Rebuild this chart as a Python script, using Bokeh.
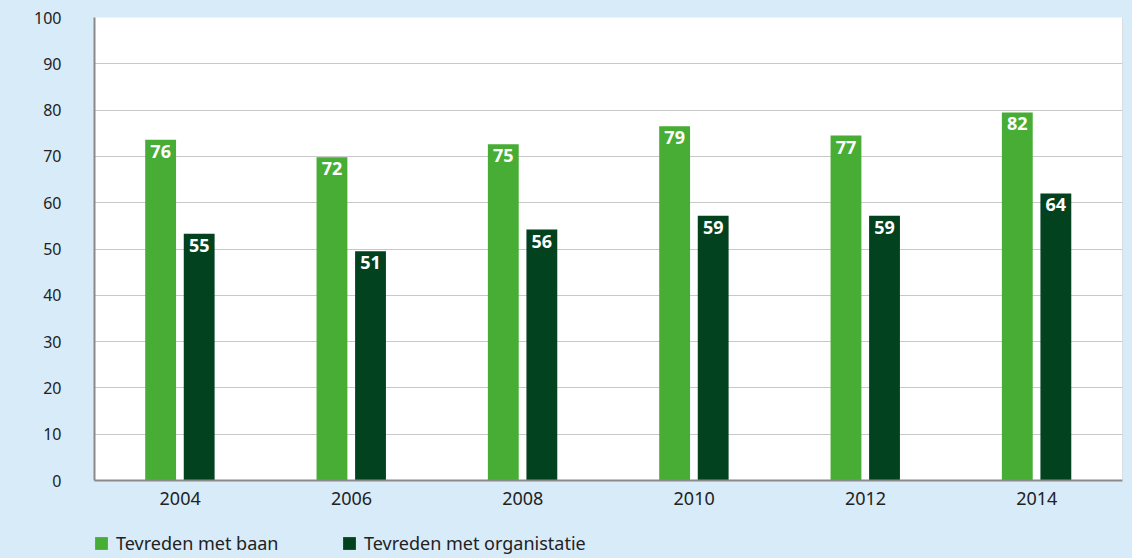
from bokeh.plotting import figure
from bokeh.layouts import column
from bokeh.models import FactorRange, Range1d, FixedTicker, Legend, LegendItem, ColumnDataSource, Span
from bokeh.transform import dodge
from bokeh.core.properties import value
from bokeh.embed import file_html
from bokeh.resources import INLINE

years = ["2004", "2006", "2008", "2010", "2012", "2014"]
baan = [73.6, 69.8, 72.6, 76.5, 74.5, 79.5]
organisatie = [53.3, 49.5, 54.2, 57.2, 57.2, 62.0]
baan_labels = ["76", "72", "75", "79", "77", "82"]
organisatie_labels = ["55", "51", "56", "59", "59", "64"]
y_ticks = [0, 10, 20, 30, 40, 50, 60, 70, 80, 90, 100]
series_names = ["Tevreden met baan", "Tevreden met organistatie"]

LIGHT = "#47ad35"
DARK = "#03421e"
BG = "#d7ebf9"
FONT = "Noto Sans"

src = ColumnDataSource(dict(years=years, baan=baan, org=organisatie,
                            bl=baan_labels, ol=organisatie_labels))

p = figure(width=1132, height=510, output_backend="svg", toolbar_location=None,
           x_range=FactorRange(*years, range_padding=0), y_range=Range1d(0, 100),
           min_border_left=94, min_border_right=10, min_border_top=17, min_border_bottom=30)
p.background_fill_color = "white"
p.border_fill_color = BG
p.outline_line_color = None

p.vbar(x=dodge("years", -0.114, range=p.x_range), top="baan", width=0.18, source=src,
       fill_color=LIGHT, line_color=None)
p.vbar(x=dodge("years", 0.111, range=p.x_range), top="org", width=0.18, source=src,
       fill_color=DARK, line_color=None)

p.text(x=dodge("years", -0.114, range=p.x_range), y="baan", text="bl", source=src,
       text_color="white", text_font=value(FONT), text_font_style="bold",
       text_font_size="18px", text_align="center", text_baseline="top", y_offset=5)
p.text(x=dodge("years", 0.111, range=p.x_range), y="org", text="ol", source=src,
       text_color="white", text_font=value(FONT), text_font_style="bold",
       text_font_size="18px", text_align="center", text_baseline="top", y_offset=5)

p.xgrid.grid_line_color = None
p.ygrid.ticker = FixedTicker(ticks=y_ticks[1:-1])
p.ygrid.grid_line_color = "#c8c8c8"
p.ygrid.grid_line_width = 1

p.yaxis.ticker = FixedTicker(ticks=y_ticks)
for ax in (p.xaxis[0], p.yaxis[0]):
    ax.axis_line_color = "#8a8a8a"
    ax.axis_line_width = 2
    ax.major_tick_line_color = None
    ax.minor_tick_line_color = None
    ax.major_label_text_font = FONT
    ax.major_label_text_color = "#222222"
p.yaxis.major_label_text_font_size = "16px"
p.yaxis.major_label_standoff = 27
p.xaxis.major_label_text_font_size = "18px"
p.xaxis.major_label_standoff = 5

p.add_layout(Span(location=6, dimension="height", line_color="#c8c8c8", line_width=1))

# legend strip below the chart (transparent; the column supplies the background)
lf = figure(width=1132, height=48, output_backend="svg", toolbar_location=None,
            x_range=Range1d(0, 1), y_range=Range1d(0, 1),
            min_border_left=0, min_border_right=0, min_border_top=0, min_border_bottom=0)
lf.axis.visible = False
lf.grid.visible = False
lf.outline_line_color = None
lf.background_fill_color = None
lf.border_fill_color = None
# swatch renderers sit outside the visible range; only their legend glyphs show
d1 = lf.quad(left=[2], right=[3], top=[3], bottom=[2], fill_color=LIGHT, line_color=None)
d2 = lf.quad(left=[2], right=[3], top=[3], bottom=[2], fill_color=DARK, line_color=None)

for item, loc in ((LegendItem(label=series_names[0], renderers=[d1]), (-1, 3)),
                  (LegendItem(label=series_names[1], renderers=[d2]), (247, 3))):
    lg = Legend(items=[item], location=loc, padding=0, margin=0, border_line_color=None,
                background_fill_alpha=0, glyph_width=16, glyph_height=16, label_height=16,
                label_standoff=7, label_text_font=FONT, label_text_font_size="18px",
                label_text_color="#222222")
    lf.add_layout(lg, "center")

layout = column(p, lf, spacing=0, styles={"background-color": BG})
open("out.html", "w").write(file_html(layout, INLINE))
